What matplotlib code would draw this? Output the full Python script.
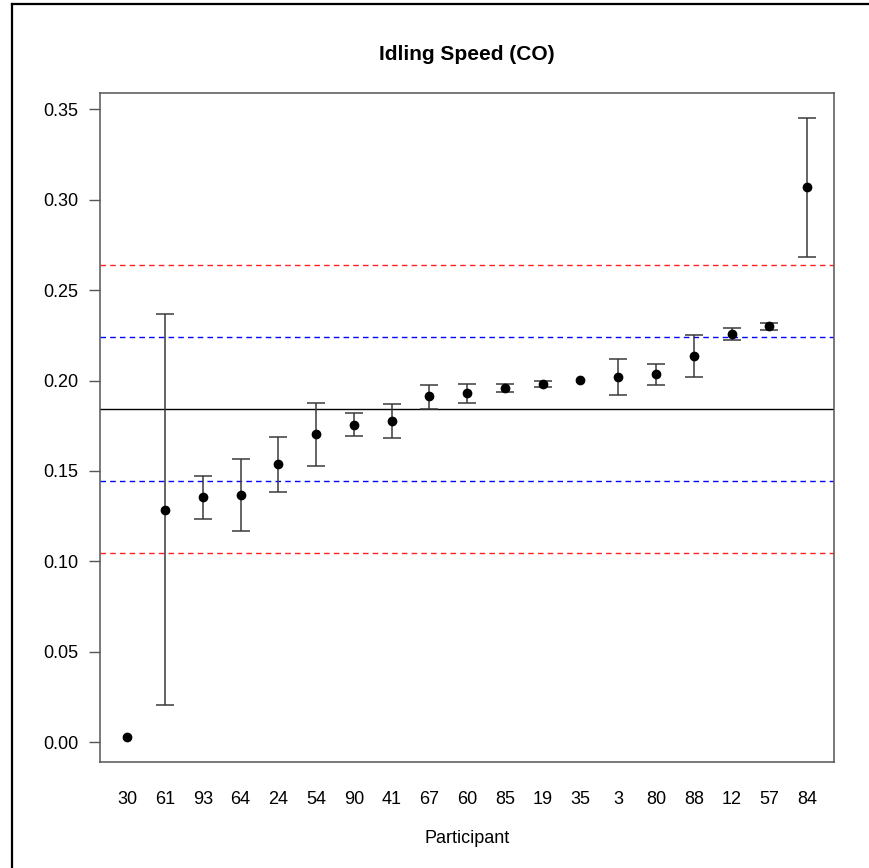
import numpy as np
import matplotlib
matplotlib.use("Agg")
import matplotlib.pyplot as plt
from matplotlib.lines import Line2D

# participant order as plotted (sorted by mean)
participants = ["30", "61", "93", "64", "24", "54", "90", "41", "67", "60",
                "85", "19", "35", "3", "80", "88", "12", "57", "84"]
means = [0.0030, 0.1285, 0.1354, 0.1365, 0.1536, 0.1702, 0.1755, 0.1775, 0.1912, 0.1930,
         0.1961, 0.1983, 0.2003, 0.2018, 0.2035, 0.2134, 0.2256, 0.2300, 0.3068]
upper = [np.nan, 0.2366, 0.1473, 0.1564, 0.1688, 0.1876, 0.1818, 0.1871, 0.1978, 0.1980,
         0.1983, 0.1998, np.nan, 0.2118, 0.2092, 0.2250, 0.2289, 0.2318, 0.3451]
lower = [np.nan, 0.0206, 0.1234, 0.1166, 0.1383, 0.1528, 0.1691, 0.1680, 0.1843, 0.1875,
         0.1935, 0.1967, np.nan, 0.1919, 0.1978, 0.2020, 0.2223, 0.2278, 0.2683]

center_line = 0.1841
inner_lines = [0.1442, 0.2239]   # blue dashed
outer_lines = [0.1044, 0.2637]   # red dashed

plt.rcParams["font.family"] = ["Liberation Sans", "DejaVu Sans"]

fig = plt.figure(figsize=(8.69, 8.68), dpi=100)
ax = fig.add_axes([0.1151, 0.1225, 0.9601 - 0.1151, 0.8925 - 0.1225])

x = np.arange(1, len(participants) + 1)
m = np.array(means)
up = np.array(upper)
lo = np.array(lower)
has_err = ~np.isnan(up)

ax.errorbar(x[has_err], m[has_err],
            yerr=[m[has_err] - lo[has_err], up[has_err] - m[has_err]],
            fmt="none", ecolor="#3a3a3a", elinewidth=1.1, capsize=6.5, capthick=1.1, zorder=2)
ax.plot(x, m, "o", color="black", markersize=6, zorder=3)

ax.axhline(center_line, color="black", lw=1.0, zorder=1)
for v in inner_lines:
    ax.axhline(v, color="#0000ff", lw=1.0, ls=(0, (4, 3)), zorder=1)
for v in outer_lines:
    ax.axhline(v, color="#ff2020", lw=1.0, ls=(0, (4, 3)), zorder=1)

# R style axis extension (4%)
allv = np.concatenate([m, lo[has_err], up[has_err]])
ymin, ymax = allv.min(), allv.max()
yext = 0.04 * (ymax - ymin)
ax.set_ylim(ymin - yext, ymax + yext)
xext = 0.04 * (len(x) - 1)
ax.set_xlim(1 - xext, len(x) + xext)

ax.set_yticks(np.arange(0, 0.351, 0.05))
ax.set_yticklabels(["%.2f" % t for t in np.arange(0, 0.351, 0.05)])
ax.set_xticks(x)
ax.set_xticklabels(participants)
ax.tick_params(axis="y", length=8, width=1, color="#555555", pad=7.5, labelsize=13)
ax.tick_params(axis="x", length=0, pad=21, labelsize=13)
for s in ax.spines.values():
    s.set_color("#555555")
    s.set_linewidth(1.1)

ax.set_xlabel("Participant", fontsize=13, labelpad=16)
ax.set_title("Idling Speed (CO)", fontsize=15, fontweight="bold", pad=24)

# page border around the figure (left and top edges)
fig.add_artist(Line2D([11.5 / 869, 11.5 / 869], [0, 1 - 4 / 868], transform=fig.transFigure,
                      color="black", lw=1.6))
fig.add_artist(Line2D([11.5 / 869, 1], [1 - 4 / 868, 1 - 4 / 868], transform=fig.transFigure,
                      color="black", lw=1.6))

fig.savefig("out.png", dpi=100)
